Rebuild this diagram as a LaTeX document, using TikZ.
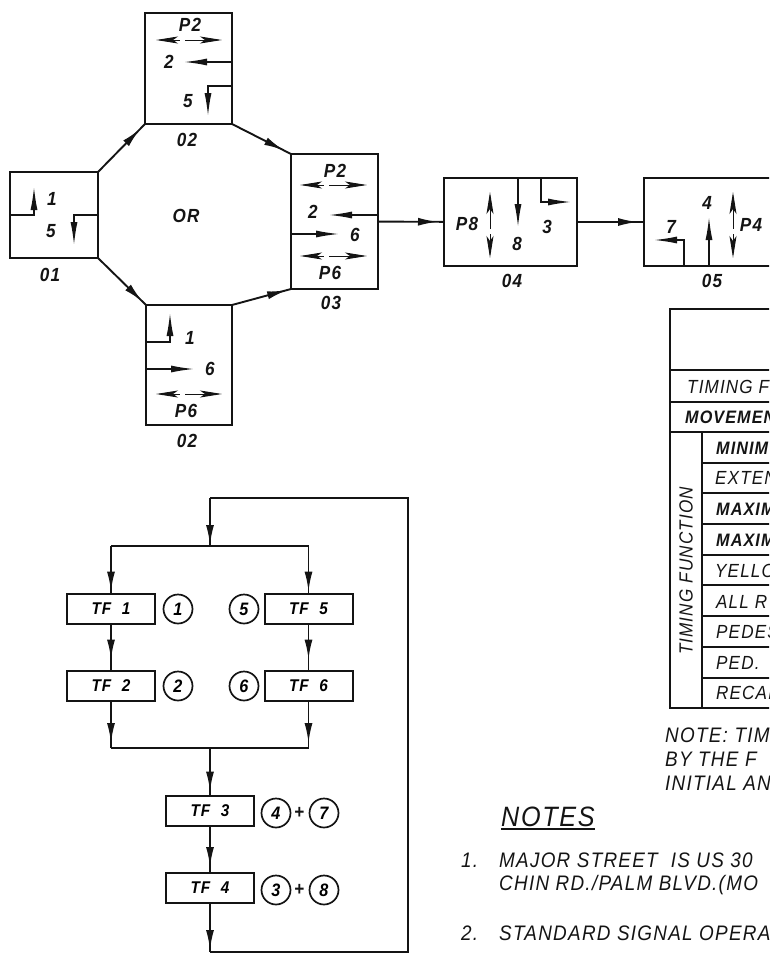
\documentclass[tikz,border=0pt]{standalone}
\usepackage{fontspec}
\usepackage{xcolor}
\usepackage{tikz}
\usetikzlibrary{positioning, arrows.meta, decorations.markings}
\setmainfont{Liberation Sans}[LetterSpace=6,FakeStretch=0.9]
\definecolor{plotink}{RGB}{20, 20, 20}
\tikzset{
  phasebox/.style={draw=plotink, line width=2pt, inner sep=0pt, outer sep=0pt},
  tfbox/.style={phasebox, minimum width=88pt, minimum height=30pt, font=\fontsize{17}{18}\selectfont\itshape\bfseries},
  movelabel/.style={inner sep=0pt, text=plotink, font=\fontsize{19}{20}\selectfont\itshape\bfseries},
  tablelabel/.style={anchor=west, inner sep=0pt, text=plotink, font=\fontsize{19}{20}\selectfont\itshape},
  tablelabelb/.style={tablelabel, font=\fontsize{18}{20}\selectfont\itshape\bfseries},
  notelabel/.style={anchor=west, inner sep=0pt, text=plotink, font=\fontsize{21}{22}\selectfont\itshape},
  phasenum/.style={circle, draw=plotink, line width=1.7pt, minimum size=29pt, inner sep=0pt, outer sep=0pt, font=\fontsize{18}{18}\selectfont\itshape\bfseries},
  move/.style={draw=plotink, line width=1.4pt, -{Latex[length=23pt,width=7pt]}},
  ped/.style={draw=plotink, line width=1pt, dash pattern=on 8pt off 5pt on 80pt, {Stealth[length=22pt,width=7pt,inset=5pt]}-{Stealth[length=22pt,width=7pt,inset=5pt]}},
  flow/.style={draw=plotink, line width=1.9pt, postaction={decorate},
    decoration={markings, mark=at position -#1 with {\arrow{Latex[length=20pt,width=8pt]}}}},
  flow/.default=1pt,
  tableline/.style={draw=plotink, line width=1.5pt}
}

\begin{document}
\begin{tikzpicture}
\begin{scope}[x=1pt,y=-1pt]
\useasboundingbox (0,0) rectangle (769,953);
\clip (0,0) rectangle (769,953);
% ring of phases
\node[phasebox, minimum width=88pt, minimum height=86pt] (b01) at (54,215) {};
\node[phasebox, minimum width=87pt, minimum height=111pt] (b02t) at (188.5,68.5) {};
\node[phasebox, minimum width=87pt, minimum height=135pt] (b03) at (334.5,221.5) {};
\node[phasebox, minimum width=86pt, minimum height=120pt] (b02b) at (189,365) {};
\node[phasebox, minimum width=133pt, minimum height=88pt] (b04) at (510.5,222) {};
\node[phasebox, minimum width=170pt, minimum height=88pt] (b05) at (729,222) {};
\draw[flow=7pt] (b01.north east) -- (b02t.south west);
\draw[flow=8pt] (b02t.south east) -- (b03.north west);
\draw[flow=5pt] (b01.south east) -- (b02b.north west);
\draw[flow=4pt] (b02b.north east) -- (b03.south west);
\draw[flow=6pt] (b03) -- (b04);
\draw[flow=6pt] (b04) -- (b05);
\node[movelabel] (lor) at (186,216) {OR};
\node[movelabel] (l01) at (50,275) {01};
\node[movelabel] (l02t) at (187,140) {02};
\node[movelabel] (l02b) at (187,441) {02};
\node[movelabel] (l03) at (331,303) {03};
\node[movelabel] (l04) at (512,281) {04};
\node[movelabel] (l05) at (712,281) {05};
% phase 01
\coordinate (m1c) at (34,215);
\coordinate (m1t) at (34,187);
\coordinate (m5c) at (74,215);
\coordinate (m5t) at (74,245);
\draw[move] (b01.west |- m1c) -- (m1c) -- (m1t);
\draw[move] (b01.east |- m5c) -- (m5c) -- (m5t);
\node[movelabel] (t1a) at (52,199) {1};
\node[movelabel] (t5a) at (51,231) {5};
% phase 02 top
\coordinate (p2al) at (156,40);
\coordinate (p2ar) at (222,40);
\coordinate (m2at) at (184,62);
\coordinate (m5bc) at (208,86);
\coordinate (m5bt) at (208,116);
\draw[ped] (p2al) -- (p2ar);
\draw[move] (b02t.east |- m2at) -- (m2at);
\draw[move] (b02t.east |- m5bc) -- (m5bc) -- (m5bt);
\node[movelabel] (tp2a) at (190,25) {P2};
\node[movelabel] (t2a) at (169,62) {2};
\node[movelabel] (t5b) at (188,101) {5};
% phase 03
\coordinate (p2bl) at (300,185);
\coordinate (p2br) at (367,185);
\coordinate (m2bt) at (329,215);
\coordinate (m6at) at (339,234);
\coordinate (p6al) at (300,256);
\coordinate (p6ar) at (367,256);
\draw[ped] (p2bl) -- (p2br);
\draw[move] (b03.east |- m2bt) -- (m2bt);
\draw[move] (b03.west |- m6at) -- (m6at);
\draw[ped] (p6al) -- (p6ar);
\node[movelabel] (tp2b) at (335,171) {P2};
\node[movelabel] (t2b) at (313,212) {2};
\node[movelabel] (t6a) at (355,235) {6};
\node[movelabel] (tp6a) at (330,273) {P6};
% phase 02 bottom
\coordinate (m1bc) at (170,342);
\coordinate (m1bt) at (170,313);
\coordinate (m6bt) at (194,369);
\coordinate (p6bl) at (156,394);
\coordinate (p6br) at (222,394);
\draw[move] (b02b.west |- m1bc) -- (m1bc) -- (m1bt);
\draw[move] (b02b.west |- m6bt) -- (m6bt);
\draw[ped] (p6bl) -- (p6br);
\node[movelabel] (t1b) at (190,338) {1};
\node[movelabel] (t6b) at (210,369) {6};
\node[movelabel] (tp6b) at (186,411) {P6};
% phase 04
\coordinate (p8a) at (490,258);
\coordinate (p8b) at (490,192);
\coordinate (m8t) at (518,227);
\coordinate (m3c) at (541,202);
\coordinate (m3t) at (571,202);
\draw[ped] (p8a) -- (p8b);
\draw[move] (m8t |- b04.north) -- (m8t);
\draw[move] (m3c |- b04.north) -- (m3c) -- (m3t);
\node[movelabel] (tp8) at (467,224) {P8};
\node[movelabel] (t8) at (517,244) {8};
\node[movelabel] (t3) at (547,227) {3};
% phase 05
\coordinate (m7c) at (684,240);
\coordinate (m7t) at (654,240);
\coordinate (m4t) at (709,217);
\coordinate (p4a) at (733,258);
\coordinate (p4b) at (733,192);
\draw[move] (m7c |- b05.south) -- (m7c) -- (m7t);
\draw[move] (m4t |- b05.south) -- (m4t);
\draw[ped] (p4a) -- (p4b);
\node[movelabel] (t7) at (671,227) {7};
\node[movelabel] (t4) at (707,203) {4};
\node[movelabel] (tp4) at (751,225) {P4};
% timing table
\draw[tableline] (800,309) -- (670,309) -- (670,708) -- (800,708);
\draw[tableline] (670,370) -- (800,370);
\draw[tableline] (670,402) -- (800,402);
\draw[tableline] (670,432) -- (800,432);
\draw[tableline] (702,432) -- (702,708);
\draw[tableline] (702,463) -- (800,463);
\draw[tableline] (702,493) -- (800,493);
\draw[tableline] (702,524) -- (800,524);
\draw[tableline] (702,555) -- (800,555);
\draw[tableline] (702,585) -- (800,585);
\draw[tableline] (702,616) -- (800,616);
\draw[tableline] (702,647) -- (800,647);
\draw[tableline] (702,678) -- (800,678);
\node[tablelabel] (rtf) at (687,387) {TIMING F};
\node[tablelabelb] (rmv) at (685,417) {MOVEMEN};
\node[tablelabelb] (r1) at (716,448) {MINIMU};
\node[tablelabel] (r2) at (715,478) {EXTEN};
\node[tablelabelb] (r3) at (716,509) {MAXIM};
\node[tablelabelb] (r4) at (716,540) {MAXIM};
\node[tablelabel] (r5) at (715,571) {YELLO};
\node[tablelabel] (r6) at (716,602) {ALL R};
\node[tablelabel] (r7) at (716,632) {PEDES};
\node[tablelabel] (r8) at (716,663) {PED. };
\node[tablelabel] (r9) at (716,693) {RECAL};
\node[tablelabel, anchor=center, rotate=90] (rside) at (686,571) {TIMING FUNCTION};
\node[notelabel] (n1) at (665,735) {NOTE: TIM};
\node[notelabel] (n2) at (665,759) {BY THE F};
\node[notelabel] (n3) at (665,783) {INITIAL AN};
% notes
\node[notelabel, font=\fontsize{28}{30}\selectfont\itshape] (nh) at (501,817) {NOTES};
\draw[draw=plotink, line width=2pt] ([yshift=-2pt]nh.south west) -- ([yshift=-2pt]nh.south east);
\node[notelabel] (k1) at (461,860) {1.};
\node[notelabel] (k1a) at (499,860) {MAJOR STREET\ \ IS US 30};
\node[notelabel] (k1b) at (499,885) {CHIN RD./PALM BLVD.(MO};
\node[notelabel] (k2) at (461,933) {2.};
\node[notelabel] (k2a) at (499,933) {STANDARD SIGNAL OPERA};
% timing function loop
\coordinate (lpt) at (210,498);
\coordinate (lpr) at (408,498);
\coordinate (lpb) at (408,952);
\coordinate (lpe) at (210,952);
\coordinate (spl) at (210,546);
\coordinate (joi) at (210,748);
\node[tfbox] (tf1) at (111,608.5) {TF\ \ 1};
\node[tfbox] (tf2) at (111,685.5) {TF\ \ 2};
\node[tfbox] (tf5) at (308.5,608.5) {TF\ \ 5};
\node[tfbox] (tf6) at (308.5,685.5) {TF\ \ 6};
\node[tfbox] (tf3) at (210,810.5) {TF\ \ 3};
\node[tfbox] (tf4) at (210,888) {TF\ \ 4};
\node[phasenum] (c1) at (178,609) {1};
\node[phasenum] (c2) at (178,686) {2};
\node[phasenum] (c5) at (244,609) {5};
\node[phasenum] (c6) at (244,686) {6};
\node[phasenum] (c4) at (276,813) {4};
\node[phasenum] (c7) at (324,813) {7};
\node[phasenum] (c3) at (276,890) {3};
\node[phasenum] (c8) at (324,890) {8};
\node[movelabel] (pa) at (299,813) {+};
\node[movelabel] (pb) at (299,890) {+};
\draw[flow=1pt] (lpt) -- (spl);
\draw[draw=plotink, line width=1.9pt] (lpe) -- (lpb) -- (lpr) -- (lpt);
\draw[draw=plotink, line width=1.9pt] (tf1 |- spl) -- (tf5 |- spl);
\draw[flow=2pt] (tf1 |- spl) -- (tf1);
\draw[flow=2pt] (tf5 |- spl) -- (tf5);
\draw[flow=11pt] (tf1) -- (tf2);
\draw[flow=11pt] (tf5) -- (tf6);
\draw[flow=5pt] (tf2) -- (tf2 |- joi);
\draw[flow=5pt] (tf6) -- (tf6 |- joi);
\draw[draw=plotink, line width=1.9pt] (tf2 |- joi) -- (tf6 |- joi);
\draw[flow=4pt] (joi) -- (tf3);
\draw[flow=6pt] (tf3) -- (tf4);
\draw[flow=2pt] (tf4) -- (lpe);
\end{scope}
\end{tikzpicture}
\end{document}
